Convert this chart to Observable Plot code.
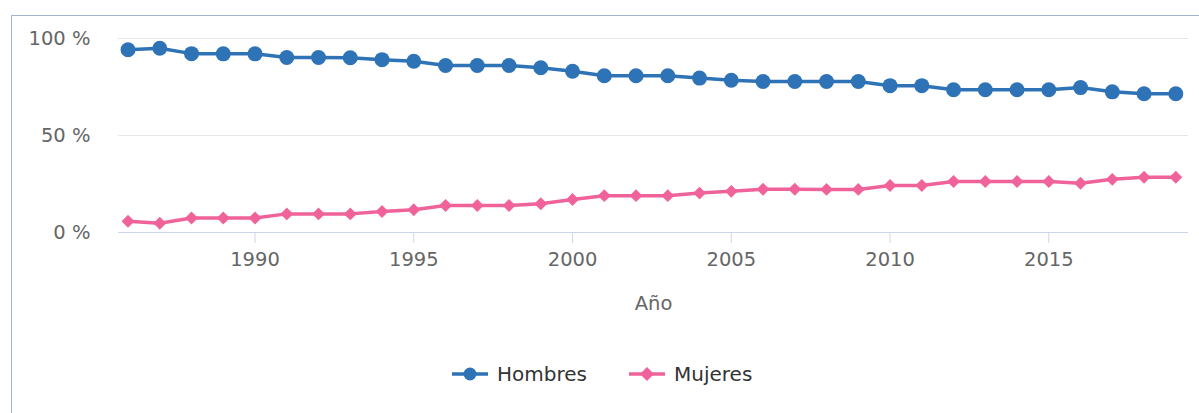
<!DOCTYPE html>
<html>
<head>
<meta charset="utf-8">
<script src="https://cdn.jsdelivr.net/npm/d3@7"></script>
<script src="https://cdn.jsdelivr.net/npm/@observablehq/plot@0.6"></script>
<style>
  html, body { margin: 0; padding: 0; background: #fff; width: 1199px; height: 413px; overflow: hidden; }
  #frame { position: absolute; left: 11px; top: 15px; width: 1300px; height: 500px; border: 1px solid #a3b5c9; box-sizing: border-box; }
  #chart { position: absolute; left: 0; top: 0; }
  #legend { position: absolute; top: 362px; left: 0; width: 1199px; height: 24px; font-family: "DejaVu Sans", sans-serif; font-size: 20px; color: #333; }
  .item { position: absolute; top: 0; display: flex; align-items: center; height: 24px; }
  .item svg { margin-right: 9px; }
</style>
</head>
<body>
<div id="frame"></div>
<div id="chart"></div>
<div id="legend"></div>
<script>
const years = d3.range(1986, 2020);
const hombres = [94.2, 95.0, 92.2, 92.1, 92.1, 90.2, 90.2, 90.1, 89.1, 88.3, 86.1, 86.1, 86.1, 84.9, 83.1, 80.8, 80.8, 80.8, 79.6, 78.5, 77.8, 77.8, 77.8, 77.8, 75.7, 75.7, 73.6, 73.6, 73.6, 73.6, 74.7, 72.5, 71.5, 71.5];
const mujeres = [5.8, 4.8, 7.5, 7.5, 7.5, 9.6, 9.6, 9.6, 10.8, 11.7, 13.9, 13.9, 13.9, 14.8, 17.0, 19.0, 19.0, 19.0, 20.3, 21.2, 22.3, 22.3, 22.2, 22.2, 24.2, 24.2, 26.3, 26.3, 26.3, 26.3, 25.4, 27.4, 28.5, 28.5];
const seriesNames = ["Hombres", "Mujeres"];
const seriesColors = ["#2f73b7", "#f0639a"];
const yTicks = [0, 50, 100];
const xTicks = [1990, 1995, 2000, 2005, 2010, 2015];

const rowsH = years.map((y, i) => ({year: y, value: hombres[i], serie: seriesNames[0]}));
const rowsM = years.map((y, i) => ({year: y, value: mujeres[i], serie: seriesNames[1]}));

const chart = Plot.plot({
  width: 1199,
  height: 320,
  marginLeft: 118,
  marginRight: 11,
  marginTop: 38,
  marginBottom: 88,
  style: { fontFamily: "DejaVu Sans, sans-serif", fontSize: "19.5px", color: "#666", background: "transparent" },
  x: { domain: [1985.7, 2019.4] },
  y: { domain: [0, 100] },
  marks: [
    Plot.ruleY(yTicks.filter(d => d > 0), { stroke: "#e6e6e6", strokeWidth: 1 }),
    Plot.ruleY([0], { stroke: "#ccd6eb", strokeWidth: 1 }),
    Plot.axisY({ ticks: yTicks, tickSize: 0, tickPadding: 28, tickFormat: d => d + " %", label: null, fill: "#666" }),
    Plot.axisX({ ticks: xTicks, tickSize: 11, tickPadding: 9, tickFormat: d => String(d), stroke: "#ccd6eb", fill: "#666",
      label: "Año", labelAnchor: "center", labelArrow: "none", labelOffset: 77 }),
    Plot.line(rowsH, { x: "year", y: "value", stroke: seriesColors[0], strokeWidth: 3.5 }),
    Plot.dot(rowsH, { x: "year", y: "value", fill: seriesColors[0], r: 7.5, symbol: "circle" }),
    Plot.line(rowsM, { x: "year", y: "value", stroke: seriesColors[1], strokeWidth: 3.5 }),
    Plot.dot(rowsM, { x: "year", y: "value", fill: seriesColors[1], r: 5.8, symbol: "diamond2" })
  ]
});
document.getElementById("chart").appendChild(chart);

// Legend
const legend = document.getElementById("legend");
const legendX = [452, 629];
const symbols = [
  c => `<circle cx="18" cy="12" r="6.5" fill="${c}"/>`,
  c => `<path d="M18 5 L25 12 L18 19 L11 12 Z" fill="${c}"/>`
];
seriesNames.forEach((name, i) => {
  const item = document.createElement("div");
  item.className = "item";
  item.style.left = legendX[i] + "px";
  item.innerHTML = `<svg width="36" height="24"><line x1="0" x2="36" y1="12" y2="12" stroke="${seriesColors[i]}" stroke-width="3.5"/>${symbols[i](seriesColors[i])}</svg><span>${name}</span>`;
  legend.appendChild(item);
});
</script>
</body>
</html>
